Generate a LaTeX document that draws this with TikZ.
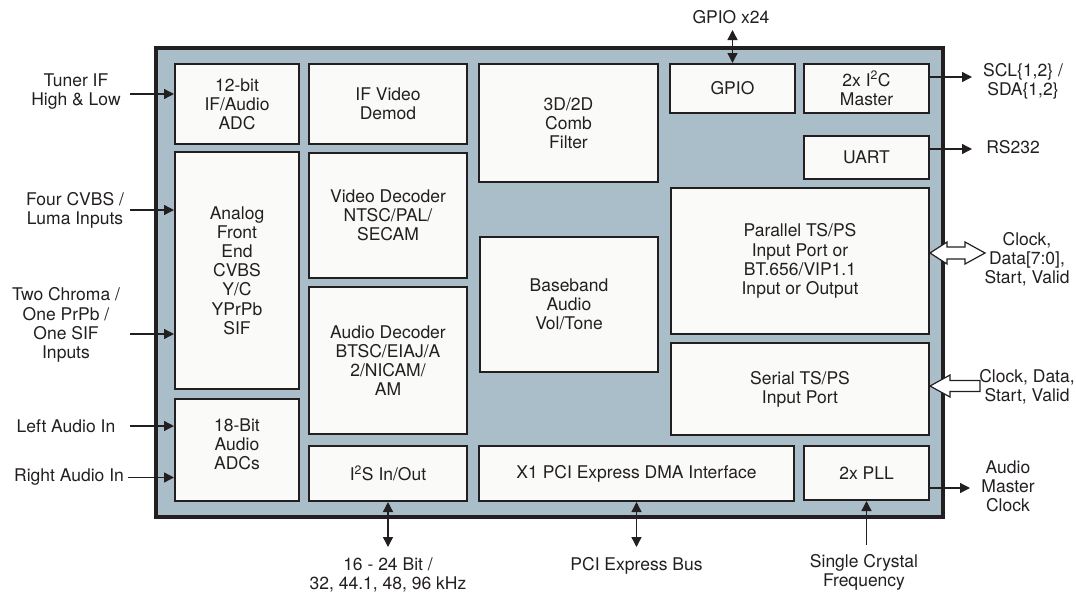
\documentclass[tikz,border=0pt]{standalone}
\usepackage{fontspec}
\setmainfont{TeX Gyre Heros}
\usetikzlibrary{arrows.meta,calc}
\definecolor{chip}{RGB}{170,190,202}
\definecolor{blkfill}{RGB}{250,250,248}
\definecolor{ink}{RGB}{35,31,32}
\begin{document}
\begin{tikzpicture}[x=1pt,y=-1pt,
  font=\fontsize{17.5}{19.2}\selectfont,
  blk/.style={draw=ink, line width=2pt, fill=blkfill, align=center, inner sep=0pt, text=ink},
  lbl/.style={align=center, inner sep=0pt, text=ink},
  arr/.style={draw=ink, line width=1.4pt, -{Triangle[length=10pt,width=10pt]}},
  darr/.style={draw=ink, line width=1.4pt, {Triangle[length=10pt,width=10pt]}-{Triangle[length=10pt,width=10pt]}},
  hollow/.style={draw=ink, line width=1.2pt, fill=white, line join=miter}]
\useasboundingbox (0,0) rectangle (1076,592);
% chip outline
\node[draw=ink, line width=3.5pt, fill=chip, minimum width=787pt, minimum height=469pt, inner sep=0pt] (chip) at (549.5,282.5) {};
% column 1
\node[blk, minimum width=124pt, minimum height=80pt] (adc) at (237,104) {12-bit\\IF/Audio\\ADC};
\node[blk, minimum width=124pt, minimum height=237pt] (afe) at (237,270.5) {Analog\\Front\\End\\CVBS\\Y/C\\YPrPb\\SIF};
\node[blk, minimum width=124pt, minimum height=102pt] (adcs) at (237,450) {18-Bit\\Audio\\ADCs\\[-8pt]};
% column 2
\node[blk, minimum width=158pt, minimum height=80pt] (ifv) at (388,104) {IF Video\\Demod};
\node[blk, minimum width=158pt, minimum height=125pt] (vdec) at (388,215.5) {Video Decoder\\NTSC/PAL/\\SECAM};
\node[blk, minimum width=158pt, minimum height=147pt] (adec) at (388,360.5) {Audio Decoder\\BTSC/EIAJ/A\\2/NICAM/\\AM};
\node[blk, minimum width=158pt, minimum height=55pt] (i2s) at (388,473.5) {I\textsuperscript{2}S In/Out};
% column 3
\node[blk, minimum width=179pt, minimum height=118pt] (comb) at (568.5,123) {3D/2D\\Comb\\Filter};
\node[blk, minimum width=178pt, minimum height=135pt] (bb) at (569,304.5) {Baseband\\Audio\\Vol/Tone};
\node[blk, minimum width=315pt, minimum height=55pt] (pci) at (636.5,473.5) {X1 PCI Express DMA Interface};
% column 4
\node[blk, minimum width=125pt, minimum height=49pt] (gpio) at (732.5,88.5) {GPIO};
\node[blk, minimum width=125pt, minimum height=49pt] (i2c) at (866.5,88.5) {2x I\textsuperscript{2}C\\Master};
\node[blk, minimum width=125pt, minimum height=43pt] (uart) at (866.5,157.5) {UART};
\node[blk, minimum width=258pt, minimum height=146pt] (par) at (800,261) {Parallel TS/PS\\Input Port or\\BT.656/VIP1.1\\Input or Output};
\node[blk, minimum width=258pt, minimum height=92pt] (ser) at (800,389) {Serial TS/PS\\Input Port};
\node[blk, minimum width=125pt, minimum height=54pt] (pll) at (866.5,473) {2x PLL};
% left labels and inputs
\node[lbl] (ltuner) at (76,91.5) {Tuner IF\\High \& Low};
\coordinate (ctuner) at (130,94);
\draw[arr] (ctuner) -- (adc.west |- ctuner);
\node[lbl] (lcvbs) at (75,210) {Four CVBS /\\Luma Inputs};
\coordinate (ccvbs) at (130,210);
\draw[arr] (ccvbs) -- (afe.west |- ccvbs);
\node[lbl] (lchroma) at (66,325) {Two Chroma /\\One PrPb /\\One SIF\\Inputs};
\coordinate (cchroma) at (130,334);
\draw[arr] (cchroma) -- (afe.west |- cchroma);
\node[lbl] (lleft) at (66,426) {Left Audio In};
\coordinate (cleft) at (130,426);
\draw[arr] (cleft) -- (adcs.west |- cleft);
\node[lbl] (lright) at (69,477.5) {Right Audio In};
\coordinate (cright) at (128,477.5);
\draw[arr] (cright) -- (adcs.west |- cright);
% top
\node[lbl] (lgpio) at (731,17) {GPIO x24};
\coordinate (cgpio) at (732.5,30);
\draw[darr] (cgpio) -- (gpio.north);
% right outputs
\node[lbl] (lscl) at (1023,81.5) {SCL\{1,2\} /\\SDA\{1,2\}};
\coordinate (cscl) at (972,77);
\draw[arr] (i2c.east |- cscl) -- (cscl);
\node[lbl] (lrs) at (1013,147) {RS232};
\coordinate (crs) at (972,149);
\draw[arr] (uart.east |- crs) -- (crs);
\node[lbl] (lpar) at (1027,259) {Clock,\\Data[7:0],\\Start, Valid};
\draw[hollow] ([yshift=8pt]par.east) -- ++(17,-11) -- ++(0,5) -- ++(18,0) -- ++(0,-5) -- ++(20,11) -- ++(-20,11) -- ++(0,-5) -- ++(-18,0) -- ++(0,5) -- cycle;
\node[lbl] (lser) at (1027,387) {Clock, Data,\\Start, Valid};
\draw[hollow] ([yshift=3pt]ser.east) -- ++(20,-11) -- ++(0,5.5) -- ++(30,0) -- ++(0,11) -- ++(-30,0) -- ++(0,5.5) -- cycle;
\node[lbl] (lamc) at (1008,486) {Audio\\Master\\Clock};
\coordinate (camc) at (970,488);
\draw[arr] (pll.east |- camc) -- (camc);
% bottom
\node[lbl] (li2s) at (388,575) {16 - 24 Bit /\\32, 44.1, 48, 96 kHz};
\coordinate (ci2s) at (388,547);
\draw[darr] (i2s.south) -- (ci2s);
\node[lbl] (lpci) at (636.5,566) {PCI Express Bus};
\coordinate (cpci) at (636.5,547);
\draw[darr] (pci.south) -- (cpci);
\node[lbl] (lxtal) at (864,572) {Single Crystal\\Frequency};
\coordinate (cxtal) at (866.5,545);
\draw[arr] (cxtal) -- (pll.south);
\end{tikzpicture}
\end{document}
